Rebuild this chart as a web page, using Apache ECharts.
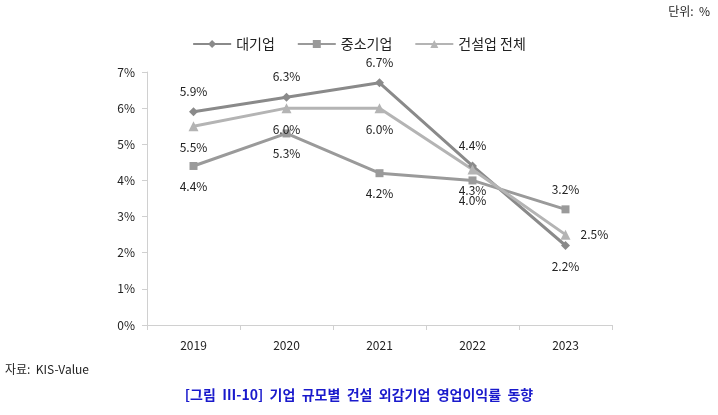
<!DOCTYPE html>
<html>
<head>
<meta charset="utf-8">
<script src="https://cdn.jsdelivr.net/npm/echarts@6/dist/echarts.min.js"></script>
<style>
html, body { margin: 0; padding: 0; background: #fff; }
#chart { width: 718px; height: 415px; }
</style>
</head>
<body>
<div id="chart"></div>
<script>
var years = ['2019', '2020', '2021', '2022', '2023'];
var bigCorp = [5.9, 6.3, 6.7, 4.4, 2.2];
var smeCorp = [4.4, 5.3, 4.2, 4.0, 3.2];
var allCorp = [5.5, 6.0, 6.0, 4.3, 2.5];
var yTicks = [0, 1, 2, 3, 4, 5, 6, 7];

var font = '"Noto Sans CJK KR", "Noto Sans", sans-serif';

// label position per point
var bigPos = ['top', 'top', 'top', 'top', 'bottom'];
var smePos = ['bottom', 'bottom', 'bottom', 'bottom', 'top'];
var allPos = ['bottom', 'bottom', 'bottom', 'bottom', 'right'];

function makeData(vals, pos) {
    return vals.map(function (v, i) {
        return { value: v, label: { position: pos[i] } };
    });
}

function lineSeries(name, vals, pos, color, symbol, size) {
    return {
        name: name,
        type: 'line',
        data: makeData(vals, pos),
        symbol: symbol,
        symbolSize: size,
        lineStyle: { color: color, width: 3 },
        itemStyle: { color: color },
        label: {
            show: true,
            distance: 10,
            color: '#222',
            fontSize: 12,
            fontFamily: font,
            formatter: function (p) { return p.value.toFixed(1) + '%'; }
        },
        z: 2
    };
}

var chart = echarts.init(document.getElementById('chart'));
chart.setOption({
    animation: false,
    textStyle: { fontFamily: font },
    grid: { left: 147, right: 106, top: 72, bottom: 90 },
    legend: {
        top: 32,
        left: 'center',
        itemWidth: 38,
        itemHeight: 10,
        itemGap: 22,
        textStyle: { fontSize: 14, color: '#222', fontFamily: font },
        data: ['대기업', '중소기업', '건설업 전체']
    },
    xAxis: {
        type: 'category',
        data: years,
        boundaryGap: true,
        axisLine: { lineStyle: { color: '#d0d0d0' } },
        axisTick: { show: true, lineStyle: { color: '#d0d0d0' } },
        axisLabel: { color: '#222', fontSize: 12, margin: 14 }
    },
    yAxis: {
        type: 'value',
        min: yTicks[0],
        max: yTicks[yTicks.length - 1],
        interval: 1,
        axisLine: { show: true, lineStyle: { color: '#d0d0d0' } },
        axisTick: { show: true, lineStyle: { color: '#d0d0d0' } },
        splitLine: { show: false },
        axisLabel: { color: '#222', fontSize: 12, margin: 12, formatter: '{value}%' }
    },
    graphic: [
        { type: 'text', right: 8, top: 5, style: { text: '단위:  %', fontSize: 12, fill: '#222', fontFamily: font } },
        { type: 'text', left: 5, top: 363, style: { text: '자료:  KIS-Value', fontSize: 12, fill: '#222', fontFamily: font } },
        { type: 'text', left: 'center', top: 388, style: { text: '[그림  Ⅲ-10]  기업  규모별  건설  외감기업  영업이익률  동향', fontSize: 14, fontWeight: 'bold', fill: '#1a1acc', fontFamily: font } }
    ],
    series: [
        lineSeries('대기업', bigCorp, bigPos, '#8a8a8a', 'diamond', 9),
        lineSeries('중소기업', smeCorp, smePos, '#9a9a9a', 'rect', 8),
        lineSeries('건설업 전체', allCorp, allPos, '#b4b4b4', 'triangle', 10)
    ]
});
</script>
</body>
</html>
